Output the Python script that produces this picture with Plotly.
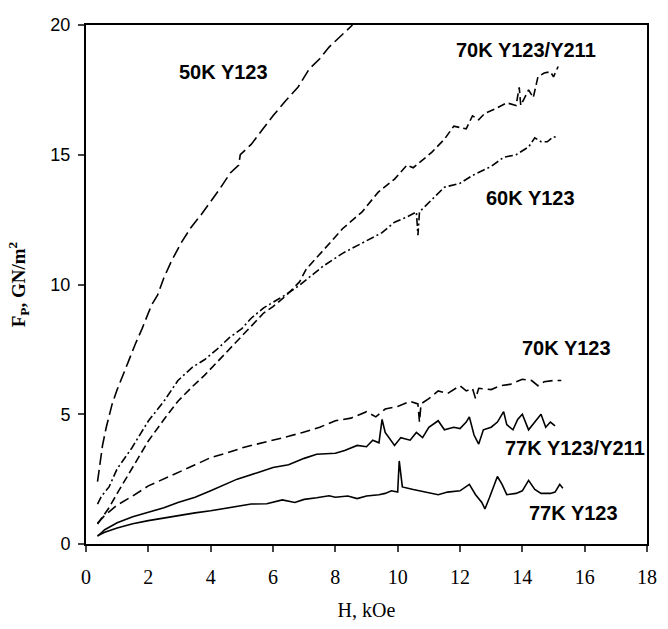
import plotly.graph_objects as go

# ---- data ----
h_50k = [0.37, 0.45, 0.53, 0.65, 0.84, 1.0, 1.16, 1.35, 1.58, 1.8, 2.1, 2.3, 2.5, 2.74, 3.05, 3.37,
         3.7, 4.0, 4.3, 4.63, 4.9, 4.95, 5.3, 5.68, 6.0, 6.42, 6.8, 7.16, 7.5, 7.8, 8.1, 8.55]
f_50k = [2.4, 3.2, 3.8, 4.5, 5.4, 5.95, 6.4, 7.0, 7.7, 8.3, 9.2, 9.6, 10.26, 10.9, 11.6, 12.2,
         12.7, 13.2, 13.7, 14.3, 14.6, 15.0, 15.4, 16.0, 16.5, 17.1, 17.6, 18.3, 18.7, 19.15, 19.5, 20.0]

h_60k = [0.37, 0.5, 0.74, 1.0, 1.47, 2.0, 2.5, 2.95, 3.4, 3.8, 4.2, 4.6, 5.0, 5.3, 5.7, 6.0, 6.4,
         6.85, 7.2, 7.6, 8.23, 8.86, 9.5, 9.9, 10.3, 10.6, 10.65, 10.7, 11.2, 11.5, 12.0, 12.4,
         13.0, 13.4, 13.8, 14.2, 14.4, 14.6, 14.8, 15.0, 15.15]
f_60k = [1.54, 1.85, 2.2, 2.9, 3.7, 4.74, 5.5, 6.3, 6.8, 7.1, 7.5, 7.95, 8.3, 8.7, 9.1, 9.3, 9.6,
         9.97, 10.3, 10.7, 11.2, 11.6, 12.0, 12.4, 12.6, 12.8, 11.9, 12.8, 13.4, 13.75, 13.9, 14.2,
         14.55, 14.9, 15.0, 15.3, 15.65, 15.5, 15.5, 15.7, 15.65]

h_70k_211 = [0.37, 0.5, 0.74, 1.0, 1.47, 2.0, 2.5, 2.95, 3.4, 3.8, 4.2, 4.6, 5.0, 5.3, 5.7, 6.0, 6.4,
             6.85, 7.07, 7.6, 8.23, 8.86, 9.37, 9.9, 10.3, 10.5, 10.8, 11.1, 11.5, 11.8, 12.2, 12.4,
             12.6, 12.8, 13.1, 13.5, 13.8, 13.9, 13.95, 14.2, 14.35, 14.5, 14.7, 14.9, 15.0, 15.15]
f_70k_211 = [0.77, 1.0, 1.4, 1.95, 2.9, 3.97, 4.8, 5.5, 6.05, 6.5, 7.0, 7.5, 8.0, 8.4, 8.9, 9.15, 9.55,
             10.1, 10.6, 11.3, 12.15, 12.8, 13.55, 14.06, 14.6, 14.5, 14.8, 15.1, 15.6, 16.1, 16.0, 16.5,
             16.35, 16.6, 16.75, 17.0, 16.9, 17.6, 16.9, 17.5, 17.2, 18.0, 18.15, 18.2, 18.0, 18.4]

h_70k = [0.37, 0.6, 1.0, 1.5, 2.0, 2.5, 2.95, 3.5, 4.0, 4.5, 5.05, 5.5, 6.0, 6.5, 6.95, 7.5, 8.0,
         8.5, 9.0, 9.3, 9.6, 10.0, 10.4, 10.65, 10.7, 10.75, 11.0, 11.3, 11.6, 12.0, 12.2, 12.4,
         12.5, 12.6, 13.0, 13.3, 13.6, 14.0, 14.3, 14.5, 14.7, 15.0, 15.25]
f_70k = [0.8, 1.1, 1.5, 1.85, 2.24, 2.5, 2.75, 3.05, 3.33, 3.5, 3.72, 3.85, 4.0, 4.15, 4.3, 4.5, 4.75,
         4.85, 5.1, 4.9, 5.2, 5.3, 5.5, 5.4, 4.7, 5.4, 5.6, 5.9, 5.8, 6.1, 5.9, 6.0,
         5.6, 6.0, 5.95, 6.1, 6.15, 6.35, 6.3, 6.1, 6.25, 6.3, 6.3]

h_77k_211 = [0.37, 0.6, 1.0, 1.5, 2.0, 2.5, 2.95, 3.5, 4.0, 4.5, 4.85, 5.5, 6.0, 6.5, 7.0, 7.4, 8.0,
             8.3, 8.7, 9.0, 9.2, 9.4, 9.5, 9.6, 9.9, 10.1, 10.4, 10.6, 10.8, 11.0, 11.3, 11.5, 11.8,
             12.0, 12.2, 12.3, 12.45, 12.6, 12.75, 13.0, 13.2, 13.4, 13.5, 13.7, 13.85, 14.0, 14.2,
             14.4, 14.6, 14.75, 14.9, 15.05]
f_77k_211 = [0.3, 0.55, 0.82, 1.05, 1.22, 1.4, 1.6, 1.8, 2.05, 2.3, 2.5, 2.75, 2.95, 3.05, 3.3, 3.46, 3.5,
             3.6, 3.8, 3.75, 4.0, 3.9, 4.8, 4.3, 3.8, 4.1, 4.0, 4.3, 4.1, 4.5, 4.75, 4.4, 4.5,
             4.45, 4.7, 4.9, 4.2, 3.85, 4.4, 4.5, 4.7, 5.1, 4.6, 4.4, 4.8, 5.0, 4.4,
             4.7, 5.0, 4.5, 4.7, 4.55]

h_77k = [0.37, 0.6, 1.0, 1.5, 2.0, 2.5, 3.0, 3.5, 4.0, 4.5, 5.0, 5.3, 5.8, 6.0, 6.3, 6.7, 7.0, 7.4,
         7.8, 8.0, 8.4, 8.7, 9.0, 9.4, 9.6, 9.8, 10.0, 10.05, 10.15, 10.5, 10.9, 11.3, 11.6, 12.0,
         12.3, 12.5, 12.7, 12.8, 12.95, 13.2, 13.35, 13.5, 13.8, 14.0, 14.2, 14.4, 14.6, 14.9,
         15.05, 15.2, 15.3]
f_77k = [0.32, 0.45, 0.62, 0.78, 0.9, 1.0, 1.12, 1.2, 1.28, 1.38, 1.5, 1.54, 1.55, 1.6, 1.7, 1.6, 1.72, 1.78,
         1.86, 1.8, 1.85, 1.75, 1.85, 1.9, 1.95, 2.05, 2.0, 3.2, 2.2, 2.1, 2.0, 1.9, 2.0, 2.05,
         2.3, 1.9, 1.6, 1.35, 1.8, 2.6, 2.3, 1.9, 1.95, 2.05, 2.45, 2.1, 1.95, 1.95,
         2.0, 2.3, 2.15]

labels = ["50K Y123", "70K Y123/Y211", "60K Y123", "70K Y123", "77K Y123/Y211", "77K Y123"]
label_x = [4.42, 14.13, 14.26, 15.42, 15.7, 15.65]
label_y = [18.2, 19.05, 13.33, 7.55, 3.7, 1.2]

x_ticks = [0, 2, 4, 6, 8, 10, 12, 14, 16, 18]
y_ticks = [0, 5, 10, 15, 20]

series = [
    (h_50k, f_50k, "12px,5px"),
    (h_60k, f_60k, "8px,3px,2px,3px"),
    (h_70k_211, f_70k_211, "8px,4px"),
    (h_70k, f_70k, "10px,5px"),
    (h_77k_211, f_77k_211, "solid"),
    (h_77k, f_77k, "solid"),
]

SANS = "Liberation Sans, Arial, sans-serif"
SERIF = "Liberation Serif, Times New Roman, serif"

fig = go.Figure()
for hx, fy, dash in series:
    fig.add_trace(go.Scatter(x=hx, y=fy, mode="lines",
                             line=dict(color="black", width=1.6, dash=dash),
                             showlegend=False, hoverinfo="skip"))

for t, xx, yy in zip(labels, label_x, label_y):
    fig.add_annotation(x=xx, y=yy, text="<b>" + t + "</b>", showarrow=False,
                       font=dict(family=SANS, size=20, color="black"),
                       xanchor="center", yanchor="middle")

fig.update_layout(
    width=668, height=629,
    margin=dict(l=86, r=11, t=25, b=82),
    paper_bgcolor="white", plot_bgcolor="white",
    xaxis=dict(range=[0, 18], tickvals=x_ticks, ticks="outside", ticklen=6, tickwidth=2,
               showline=True, linewidth=2, linecolor="black", mirror=True, showgrid=False,
               zeroline=False, ticklabelstandoff=8,
               tickfont=dict(family=SERIF, size=20, color="black"),
               title=dict(text="H, kOe", standoff=16,
                          font=dict(family=SERIF, size=20, color="black"))),
    yaxis=dict(range=[0, 20], tickvals=y_ticks, ticks="outside", ticklen=6, tickwidth=2,
               showline=True, linewidth=2, linecolor="black", mirror=True, showgrid=False,
               zeroline=False, ticklabelstandoff=4,
               tickfont=dict(family=SANS, size=18, color="black"),
               title=dict(text="<b>F<sub>P</sub>, GN/m<sup>2</sup></b>", standoff=20,
                          font=dict(family=SERIF, size=19, color="black"))),
)

fig.write_html("out.html",
               config={"displayModeBar": False, "staticPlot": True},
               post_script="document.body.style.margin='0';document.body.style.overflow='hidden';")
